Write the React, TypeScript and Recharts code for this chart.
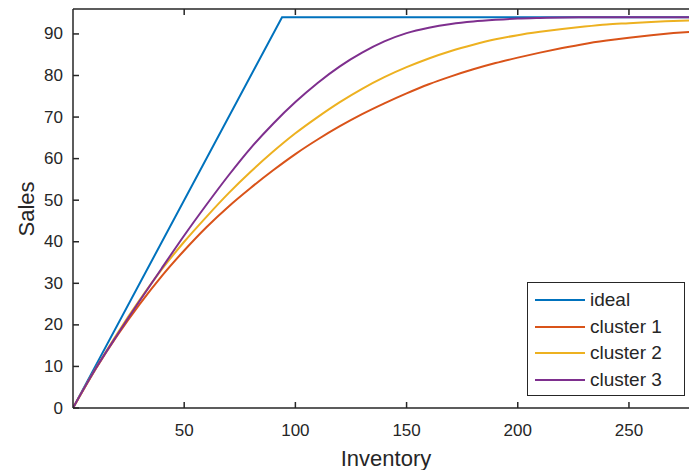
import { LineChart, Line, XAxis, YAxis, Legend } from 'recharts';

const inventory = [
  0, 10, 20, 30, 40, 50, 60, 70, 80, 90, 100, 110, 120, 130, 140, 150, 160, 170, 180, 190, 200,
  210, 220, 230, 240, 250, 260, 270, 280,
];
const cluster1 = [
  0, 9.2, 17.5, 25.0, 31.8, 37.9, 43.5, 48.5, 53.0, 57.2, 61.1, 64.6, 67.8, 70.7, 73.3, 75.7,
  77.9, 79.8, 81.5, 83.0, 84.3, 85.5, 86.6, 87.6, 88.4, 89.1, 89.7, 90.2, 90.6,
];
const cluster2 = [
  0, 9.3, 18.0, 26.0, 33.4, 40.0, 46.0, 51.7, 56.9, 61.7, 66.1, 70.0, 73.6, 76.8, 79.6, 82.0,
  84.1, 85.9, 87.4, 88.7, 89.7, 90.5, 91.2, 91.8, 92.3, 92.6, 92.9, 93.1, 93.3,
];
const cluster3 = [
  0, 9.3, 17.7, 25.8, 33.7, 41.5, 48.9, 56.0, 62.6, 68.4, 73.6, 78.2, 82.2, 85.5, 88.2, 90.2,
  91.5, 92.4, 93.0, 93.4, 93.7, 93.85, 93.95, 94, 94, 94, 94, 94, 94,
];
const idealInventory = [0, 94, 280];
const idealSales = [0, 94, 94];

const xTicks = [50, 100, 150, 200, 250];
const yTicks = [0, 10, 20, 30, 40, 50, 60, 70, 80, 90];

const FONT = '"Liberation Sans", Arial, Helvetica, sans-serif';
const AXIS = '#262626';

const series = [
  { key: 'ideal', name: 'ideal', color: '#0072BD' },
  { key: 'c1', name: 'cluster 1', color: '#D95319' },
  { key: 'c2', name: 'cluster 2', color: '#EDB120' },
  { key: 'c3', name: 'cluster 3', color: '#7E2F8E' },
];

const clusterData = inventory.map((x, i) => ({
  x,
  c1: cluster1[i],
  c2: cluster2[i],
  c3: cluster3[i],
}));
const idealData = idealInventory.map((x, i) => ({ x, ideal: idealSales[i] }));

// tick marks point into the plot, like the original
const LeftTick = ({ x, y, payload }: any) => (
  <g>
    <path d={`M${x + 10},${y}h6`} stroke={AXIS} strokeWidth={1.5} />
    <text x={x} y={y} textAnchor="end" dominantBaseline="central" fill={AXIS} fontSize={17} fontFamily={FONT}>
      {payload.value}
    </text>
  </g>
);

const BottomTick = ({ x, y, payload }: any) => (
  <g>
    <path d={`M${x},${y - 16}v-6`} stroke={AXIS} strokeWidth={1.5} />
    <text x={x} y={y} dy="0.71em" textAnchor="middle" fill={AXIS} fontSize={17} fontFamily={FONT}>
      {payload.value}
    </text>
  </g>
);

const TopTick = ({ x, y }: any) => (
  <g>
    <path d={`M${x},${y}v6`} stroke={AXIS} strokeWidth={1.5} />
  </g>
);

const SalesLabel = () => (
  <text
    x={26}
    y={209}
    transform="rotate(-90 26 209)"
    textAnchor="middle"
    dominantBaseline="central"
    fill={AXIS}
    fontSize={22}
    fontFamily={FONT}
  >
    Sales
  </text>
);

const InventoryLabel = () => (
  <text
    x={386}
    y={458}
    textAnchor="middle"
    dominantBaseline="central"
    fill={AXIS}
    fontSize={22}
    fontFamily={FONT}
  >
    Inventory
  </text>
);

const LegendBox = () => (
  <div
    style={{
      border: `1.5px solid ${AXIS}`,
      background: '#fff',
      padding: '4px 0',
      boxSizing: 'border-box',
      width: 158,
      height: 114,
      fontFamily: FONT,
      fontSize: 19,
      color: AXIS,
      whiteSpace: 'nowrap',
    }}
  >
    {series.map((s) => (
      <div key={s.key} style={{ display: 'flex', alignItems: 'center', height: 26.5 }}>
        <svg width={55} height={4} style={{ marginLeft: 7, flexShrink: 0 }}>
          <line x1={0} y1={2} x2={50} y2={2} stroke={s.color} strokeWidth={2} />
        </svg>
        <span>{s.name}</span>
      </div>
    ))}
  </div>
);

export default function App() {
  return (
    <div style={{ position: 'absolute', left: 0, top: 0, background: '#fff' }}>
      <LineChart width={689} height={470} margin={{ top: 8, right: 0, bottom: 0, left: 0 }}>
        <XAxis
          dataKey="x"
          type="number"
          domain={[0, 277]}
          allowDataOverflow
          ticks={xTicks}
          height={62}
          tickSize={0}
          tickMargin={16}
          tickLine={false}
          stroke={AXIS}
          strokeWidth={1.5}
          tick={<BottomTick />}
          label={<InventoryLabel />}
        />
        <XAxis
          xAxisId="top"
          orientation="top"
          dataKey="x"
          type="number"
          domain={[0, 277]}
          allowDataOverflow
          ticks={xTicks}
          height={1}
          tickSize={0}
          tickMargin={0}
          tickLine={false}
          stroke={AXIS}
          strokeWidth={1.5}
          tick={<TopTick />}
        />
        <YAxis
          type="number"
          domain={[0, 96]}
          allowDataOverflow
          ticks={yTicks}
          width={73}
          tickSize={0}
          tickMargin={10}
          tickLine={false}
          stroke={AXIS}
          strokeWidth={1.5}
          tick={<LeftTick />}
          label={<SalesLabel />}
        />
        <Line
          data={idealData}
          dataKey="ideal"
          name="ideal"
          type="linear"
          stroke="#0072BD"
          strokeWidth={2}
          dot={false}
          isAnimationActive={false}
        />
        <Line
          data={clusterData}
          dataKey="c1"
          name="cluster 1"
          type="monotone"
          stroke="#D95319"
          strokeWidth={2}
          dot={false}
          isAnimationActive={false}
        />
        <Line
          data={clusterData}
          dataKey="c2"
          name="cluster 2"
          type="monotone"
          stroke="#EDB120"
          strokeWidth={2}
          dot={false}
          isAnimationActive={false}
        />
        <Line
          data={clusterData}
          dataKey="c3"
          name="cluster 3"
          type="monotone"
          stroke="#7E2F8E"
          strokeWidth={2}
          dot={false}
          isAnimationActive={false}
        />
        <Legend
          layout="vertical"
          align="center"
          verticalAlign="middle"
          content={<LegendBox />}
          wrapperStyle={{ left: 527, top: 282, width: 158, height: 114, bottom: 'auto', right: 'auto' }}
        />
      </LineChart>
    </div>
  );
}
